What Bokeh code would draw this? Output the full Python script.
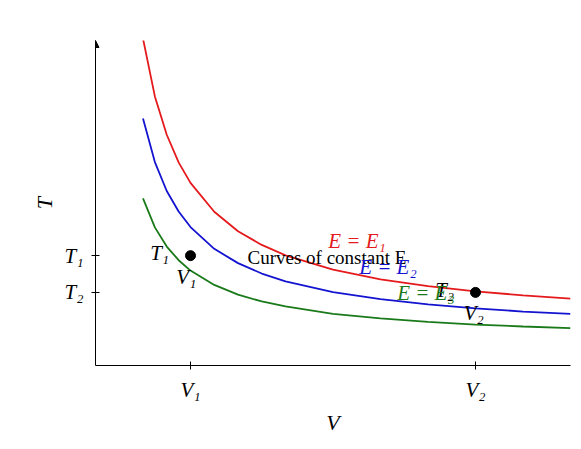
from bokeh.plotting import figure
from bokeh.models import FixedTicker, Label, Arrow, NormalHead
from bokeh.embed import file_html
from bokeh.resources import INLINE

V = [1, 1.25, 1.5, 1.75, 2, 2.5, 3, 3.5, 4, 5, 6, 7, 8, 9, 10]
E1 = [10.06, 8.28, 7.10, 6.25, 5.62, 4.73, 4.13, 3.71, 3.39, 2.95, 2.65, 2.44, 2.28, 2.16, 2.06]
E2 = [7.6, 6.26, 5.37, 4.74, 4.26, 3.59, 3.15, 2.83, 2.59, 2.26, 2.04, 1.88, 1.76, 1.66, 1.59]
E3 = [5.14, 4.25, 3.66, 3.24, 2.92, 2.48, 2.18, 1.97, 1.82, 1.59, 1.45, 1.34, 1.26, 1.2, 1.15]
state_V = [2, 8]
state_T = [3.38, 2.25]

FONT = "Liberation Serif"

p = figure(width=573, height=441, x_range=(0, 10), y_range=(0, 10),
           output_backend="svg", toolbar_location=None,
           min_border_left=95, min_border_right=3, min_border_top=40, min_border_bottom=76)
p.outline_line_color = None
p.grid.visible = False
p.background_fill_color = "white"

p.xaxis.ticker = FixedTicker(ticks=state_V)
p.xaxis.major_label_overrides = {2: "V₁", 8: "V₂"}
p.yaxis.ticker = FixedTicker(ticks=state_T)
p.yaxis.major_label_overrides = {3.38: "T₁", 2.25: "T₂"}
for ax in (p.xaxis[0], p.yaxis[0]):
    ax.minor_tick_line_color = None
    ax.major_tick_in = 4
    ax.major_tick_out = 4
    ax.axis_line_color = "black"
    ax.major_tick_line_color = "black"
    ax.major_label_text_color = "black"
    ax.axis_label_text_color = "black"
    ax.major_label_text_font = FONT
    ax.major_label_text_font_style = "italic"
    ax.major_label_text_font_size = "21px"
    ax.axis_label_text_font = FONT
    ax.axis_label_text_font_style = "italic"
    ax.axis_label_text_font_size = "22px"
    ax.major_label_standoff = 8
p.xaxis.axis_label = "V"
p.yaxis.axis_label = "T"
p.yaxis.major_label_orientation = "horizontal"

p.add_layout(Arrow(end=NormalHead(size=7, fill_color="black", line_color="black"),
                   x_start=0, y_start=9.6, x_end=0, y_end=10, line_color="black"))

p.line(V, E1, color="#e41a1c", line_width=1.8)
p.line(V, E2, color="#1414d0", line_width=1.8)
p.line(V, E3, color="#1a7a1a", line_width=1.8)
p.scatter(state_V, state_T, size=10, color="black")

def lab(x, y, t, col="black", size="21px", style="italic", **kw):
    p.add_layout(Label(x=x, y=y, text=t, text_color=col, text_font=FONT,
                       text_font_size=size, text_font_style=style, **kw))

lab(1.15, 3.1, "T₁")
lab(1.7, 2.35, "V₁")
lab(7.15, 1.95, "T₂")
lab(7.75, 1.25, "V₂")
lab(3.2, 3.0, "Curves of constant E", size="19px", style="normal")
lab(4.9, 3.45, "E = E₁", col="#e41a1c")
lab(5.55, 2.65, "E = E₂", col="#1414d0")
lab(6.35, 1.85, "E = E₃", col="#1a7a1a")
lab(5, 10.6, "Free Expansion: Constant E", size="19px", style="normal", text_align="center")

open("out.html", "w").write(file_html(p, INLINE))
